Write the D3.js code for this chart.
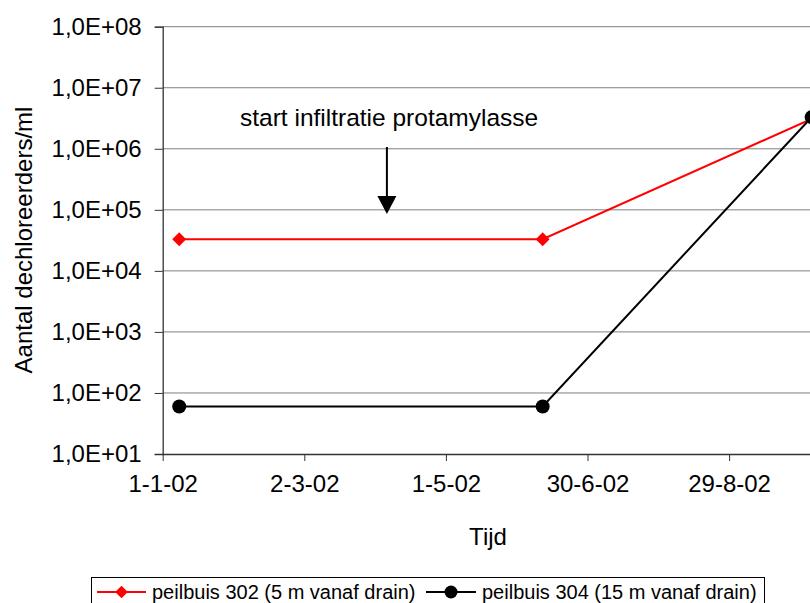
<!DOCTYPE html>
<html>
<head>
<meta charset="utf-8">
<script src="https://cdn.jsdelivr.net/npm/d3@7"></script>
<style>
  html, body { margin: 0; padding: 0; background: #fff; }
  svg { display: block; font-family: "Liberation Sans", Arial, sans-serif; }
</style>
</head>
<body>
<svg id="chart" width="810" height="603"></svg>
<script>
// ---- data ----
const dates302 = ["2002-01-08", "2002-06-11", "2002-10-03"];
const values302 = [33000, 33000, 3100000];
const dates304 = ["2002-01-08", "2002-06-11", "2002-10-03"];
const values304 = [60, 60, 3300000];
const seriesNames = ["peilbuis 302 (5 m vanaf drain)", "peilbuis 304 (15 m vanaf drain)"];
const xTickDates = ["2002-01-01", "2002-03-02", "2002-05-01", "2002-06-30", "2002-08-29"];
const yTickValues = [1e1, 1e2, 1e3, 1e4, 1e5, 1e6, 1e7, 1e8];
const annotationText = "start infiltratie protamylasse";
const annotationDate = "2002-04-06";
const xTitle = "Tijd";
const yTitle = "Aantal dechloreerders/ml";

// ---- layout ----
const svg = d3.select("#chart");
const plotLeft = 162.7, plotTop = 26.7, plotBottom = 454;
const pxPerDay = 2.36;
const parse = d3.utcParse("%Y-%m-%d");
const x0 = parse("2002-01-01"), x1 = parse("2002-12-27");
const x = d3.scaleUtc().domain([x0, x1])
  .range([plotLeft, plotLeft + pxPerDay * (x1 - x0) / 864e5]);
const y = d3.scaleLog().domain([10, 1e8]).range([plotBottom, plotTop]);

const fmtY = v => "1,0E+" + String(Math.round(Math.log10(v))).padStart(2, "0");
const fmtX = d => d.getUTCDate() + "-" + (d.getUTCMonth() + 1) + "-" + String(d.getUTCFullYear()).slice(2);

// gridlines
svg.append("g").selectAll("line").data(yTickValues.slice(1)).join("line")
  .attr("x1", plotLeft).attr("x2", 1100)
  .attr("y1", d => y(d)).attr("y2", d => y(d))
  .attr("stroke", "#7f7f7f").attr("stroke-width", 1);

// y axis
const yAxis = svg.append("g").attr("transform", `translate(${plotLeft},0)`)
  .call(d3.axisLeft(y).tickValues(yTickValues).tickFormat(fmtY).tickSize(8).tickPadding(13));
yAxis.select(".domain").attr("stroke", "#333").attr("stroke-width", 1.3);
yAxis.selectAll(".tick line").attr("stroke", "#333");
yAxis.selectAll("text").attr("font-size", 24).attr("fill", "#000")
  .attr("font-family", "Liberation Sans, Arial, sans-serif");

// x axis
const xAxis = svg.append("g").attr("transform", `translate(0,${plotBottom})`)
  .call(d3.axisBottom(x).tickValues(xTickDates.map(parse)).tickFormat(fmtX).tickSize(7).tickPadding(14));
xAxis.select(".domain").attr("stroke", "#333").attr("stroke-width", 1.3).attr("d", `M${plotLeft},0.5H1100`);
xAxis.selectAll(".tick line").attr("stroke", "#333");
xAxis.selectAll("text").attr("font-size", 24).attr("fill", "#000")
  .attr("font-family", "Liberation Sans, Arial, sans-serif");

// axis titles
svg.append("text").attr("x", 488).attr("y", 545).attr("text-anchor", "middle")
  .attr("font-size", 24).text(xTitle);
svg.append("text").attr("transform", "translate(32,240) rotate(-90)")
  .attr("text-anchor", "middle").attr("font-size", 24).text(yTitle);

// series
const s302 = dates302.map((d, i) => ({ d: parse(d), v: values302[i] }));
const s304 = dates304.map((d, i) => ({ d: parse(d), v: values304[i] }));
const line = d3.line().x(p => x(p.d)).y(p => y(p.v));

svg.append("path").datum(s302).attr("d", line)
  .attr("fill", "none").attr("stroke", "#ff0000").attr("stroke-width", 2);
svg.append("g").selectAll("path").data(s302).join("path")
  .attr("transform", p => `translate(${x(p.d)},${y(p.v)}) rotate(45)`)
  .attr("d", d3.symbol().type(d3.symbolSquare).size(96)).attr("fill", "#ff0000");

svg.append("path").datum(s304).attr("d", line)
  .attr("fill", "none").attr("stroke", "#000").attr("stroke-width", 2);
svg.append("g").selectAll("circle").data(s304).join("circle")
  .attr("cx", p => x(p.d)).attr("cy", p => y(p.v)).attr("r", 7).attr("fill", "#000");

// annotation
const ax = x(parse(annotationDate));
svg.append("text").attr("x", 240).attr("y", 126).attr("font-size", 24.5).text(annotationText);
svg.append("line").attr("x1", ax).attr("x2", ax).attr("y1", 147).attr("y2", 198)
  .attr("stroke", "#000").attr("stroke-width", 2);
svg.append("path")
  .attr("d", `M${ax - 9.5},196 L${ax + 9.5},196 L${ax},214 Z`).attr("fill", "#000");

// legend
const lg = svg.append("g");
lg.append("rect").attr("x", 91.5).attr("y", 577.5).attr("width", 673).attr("height", 40)
  .attr("fill", "#fff").attr("stroke", "#000").attr("stroke-width", 1);
const ly = 592;
lg.append("line").attr("x1", 97).attr("x2", 146).attr("y1", ly).attr("y2", ly)
  .attr("stroke", "#ff0000").attr("stroke-width", 2);
lg.append("path").attr("transform", `translate(121.5,${ly}) rotate(45)`)
  .attr("d", d3.symbol().type(d3.symbolSquare).size(80)).attr("fill", "#ff0000");
lg.append("text").attr("x", 152).attr("y", ly + 7).attr("font-size", 20).text(seriesNames[0]);
lg.append("line").attr("x1", 426).attr("x2", 476).attr("y1", ly).attr("y2", ly)
  .attr("stroke", "#000").attr("stroke-width", 2);
lg.append("circle").attr("cx", 451).attr("cy", ly).attr("r", 6.5).attr("fill", "#000");
lg.append("text").attr("x", 482).attr("y", ly + 7).attr("font-size", 20).text(seriesNames[1]);
</script>
</body>
</html>
